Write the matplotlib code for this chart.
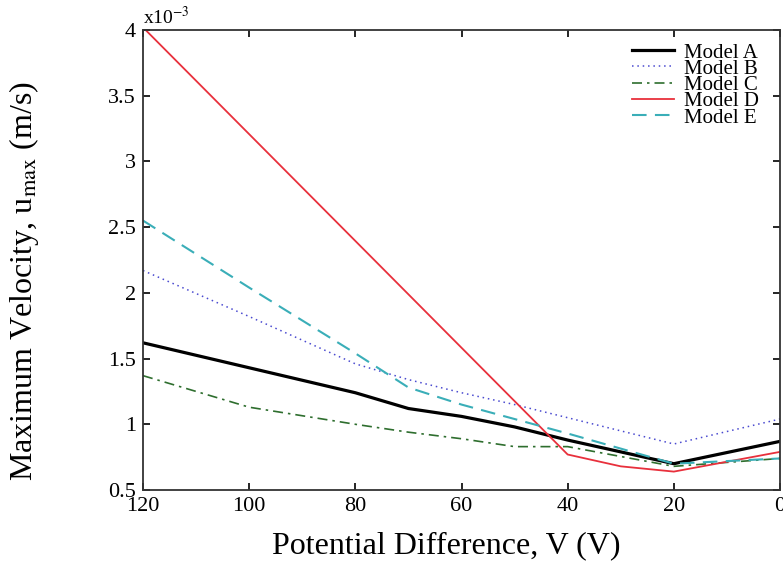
import matplotlib
matplotlib.use("Agg")
import matplotlib.pyplot as plt
from matplotlib.ticker import FixedLocator, FuncFormatter

plt.rcParams['font.family'] = ['Liberation Serif', 'DejaVu Serif']
plt.rcParams['mathtext.fontset'] = 'stix'

# Potential difference (V)
voltage = [120, 100, 80, 70, 60, 50, 40, 20, 0]
# Maximum velocity (x10^-3 m/s)
model_a = [1.62, 1.43, 1.24, 1.12, 1.06, 0.98, 0.88, 0.70, 0.87]
model_b = [2.17, 1.82, 1.46, 1.34, 1.24, 1.15, 1.05, 0.85, 1.04]
model_c = [1.37, 1.13, 1.00, 0.94, 0.89, 0.83, 0.83, 0.68, 0.74]
model_d_v = [120, 40, 30, 20, 0]
model_d = [4.02, 0.77, 0.68, 0.64, 0.79]
model_e = [2.55, 2.04, 1.54, 1.28, 1.15, 1.04, 0.93, 0.70, 0.74]

labels = ["Model A", "Model B", "Model C", "Model D", "Model E"]
x_ticks = [120, 100, 80, 60, 40, 20, 0]
y_ticks = [0.5, 1, 1.5, 2, 2.5, 3, 3.5, 4]

fig = plt.figure(figsize=(7.83, 5.67), dpi=100)
ax = fig.add_axes([143/783, 1-490/567, (780-143)/783, (490-30)/567])

ax.plot(voltage, model_a, color='black', lw=2.3, label=labels[0])
ax.plot(voltage, model_b, color='#4a4ad0', lw=1.1, ls=(0, (1, 2.5)), label=labels[1])
ax.plot(voltage, model_c, color='#2e6e2e', lw=1.2, ls=(0, (6, 3, 1.5, 3)), label=labels[2])
ax.plot(model_d_v, model_d, color='#e8303c', lw=1.3, label=labels[3])
ax.plot(voltage, model_e, color='#3aaeb8', lw=1.5, ls=(0, (7, 4)), label=labels[4])

ax.set_xlim(120, 0)
ax.set_ylim(0.5, 4)
ax.xaxis.set_major_locator(FixedLocator(x_ticks))
ax.yaxis.set_major_locator(FixedLocator(y_ticks))
ax.yaxis.set_major_formatter(FuncFormatter(lambda v, p: f"{v:g}"))
ax.tick_params(direction='in', top=True, right=True, length=5, width=1.2,
               labelsize=16, pad=5)
for s in ax.spines.values():
    s.set_linewidth(1.3)
    s.set_color('#333333')

ax.set_xlabel("Potential Difference, V (V)", fontsize=23)
ax.xaxis.set_label_coords(0.476, -0.09)
ax.set_ylabel(r"Maximum Velocity, u$_{\mathrm{max}}$ (m/s)", fontsize=23)
ax.yaxis.set_label_coords(-0.16, 0.455)
ax.text(0.0, 1.005, r"x10$^{-3}$", transform=ax.transAxes, fontsize=14,
        ha='left', va='bottom')

leg = ax.legend(loc='upper right', frameon=False, fontsize=15,
                handlelength=2.0, handletextpad=0.5, labelspacing=-0.16,
                borderaxespad=0.0, bbox_to_anchor=(0.98, 0.99))

fig.savefig("out.png", dpi=100)
